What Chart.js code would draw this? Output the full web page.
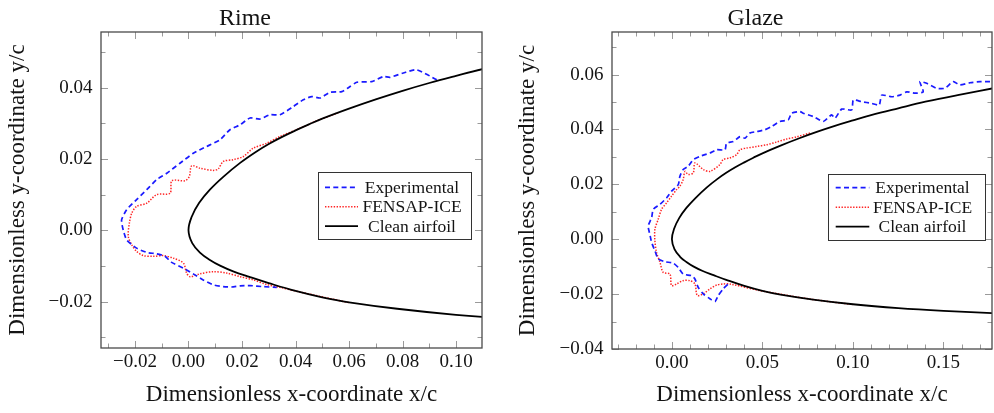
<!DOCTYPE html>
<html>
<head>
<meta charset="utf-8">
<title>Ice shapes: Rime and Glaze</title>
<script src="https://cdn.jsdelivr.net/npm/chart.js@4.4.1/dist/chart.umd.min.js"></script>
<style>
  html, body { margin: 0; padding: 0; background: #fff; }
  #wrap { position: relative; width: 994px; height: 413px; overflow: hidden; background: #fff; }
  canvas { position: absolute; top: 0; }
  #rime { left: 0; }
  #glaze { left: 497px; }
</style>
</head>
<body>
<div id="wrap">
  <canvas id="rime" width="497" height="413"></canvas>
  <canvas id="glaze" width="497" height="413"></canvas>
</div>
<script>
// ---- labels ----
const seriesLabels = ['Experimental', 'FENSAP-ICE', 'Clean airfoil'];
const panelTitles = ['Rime', 'Glaze'];
const xAxisLabel = 'Dimensionless x-coordinate x/c';
const yAxisLabel = 'Dimensionless y-coordinate y/c';

// ---- tick values ----
const rimeXTicks = [-0.02, 0.00, 0.02, 0.04, 0.06, 0.08, 0.10];
const rimeYTicks = [-0.02, 0.00, 0.02, 0.04];
const glazeXTicks = [0.00, 0.05, 0.10, 0.15];
const glazeYTicks = [-0.04, -0.02, 0.00, 0.02, 0.04, 0.06];

// ---- axis ranges [min, max] ----
const rimeXRange = [-0.0327, 0.1097];
const rimeYRange = [-0.0330, 0.0556];
const glazeXRange = [-0.0331, 0.1768];
const glazeYRange = [-0.0400, 0.0755];

// ---- clean airfoil contour (upper surface -> leading edge -> lower surface) ----
const cleanAirfoil = [
  [0.1800, 0.0553], [0.1600, 0.0528], [0.1400, 0.0501], [0.1250, 0.0477],
  [0.1100, 0.0452], [0.1000, 0.0433], [0.0900, 0.0413], [0.0800, 0.0391],
  [0.0700, 0.0367], [0.0600, 0.0341], [0.0500, 0.0313], [0.0450, 0.0297],
  [0.0400, 0.0280], [0.0350, 0.0262], [0.0300, 0.0242], [0.0250, 0.0219],
  [0.0193, 0.0189], [0.0130, 0.0150], [0.0080, 0.0114], [0.0040, 0.0077],
  [0.0012, 0.0038], [0.0000, 0.0000], [0.0014, -0.0036], [0.0045, -0.0064],
  [0.0080, -0.0083], [0.0118, -0.0099], [0.0167, -0.0115], [0.0230, -0.0131],
  [0.0300, -0.0148], [0.0400, -0.0170], [0.0500, -0.0188], [0.0600, -0.0202],
  [0.0780, -0.0220], [0.1000, -0.0237], [0.1250, -0.0251], [0.1500, -0.0261],
  [0.1800, -0.0270]
];

// ---- rime ice ----
const rimeExperimental = [
  [0.0928, 0.0422], [0.0853, 0.0450], [0.0803, 0.0441], [0.0753, 0.0429],
  [0.0728, 0.0431], [0.0685, 0.0417], [0.0629, 0.0415], [0.0604, 0.0403],
  [0.0573, 0.0389], [0.0529, 0.0387], [0.0492, 0.0371], [0.0461, 0.0375],
  [0.0429, 0.0366], [0.0392, 0.0347], [0.0342, 0.0324], [0.0305, 0.0324],
  [0.0267, 0.0312], [0.0230, 0.0315], [0.0193, 0.0296], [0.0155, 0.0282],
  [0.0118, 0.0254], [0.0068, 0.0235], [0.0018, 0.0216], [-0.0032, 0.0188],
  [-0.0081, 0.0160], [-0.0119, 0.0142], [-0.0156, 0.0114], [-0.0194, 0.0086],
  [-0.0231, 0.0058], [-0.0250, 0.0029], [-0.0244, 0.0001], [-0.0231, -0.0027],
  [-0.0194, -0.0050], [-0.0156, -0.0062], [-0.0119, -0.0066], [-0.0088, -0.0073],
  [-0.0063, -0.0090], [-0.0019, -0.0106], [0.0024, -0.0125], [0.0055, -0.0139],
  [0.0093, -0.0153], [0.0130, -0.0158], [0.0161, -0.0159], [0.0193, -0.0156],
  [0.0230, -0.0155], [0.0280, -0.0158], [0.0330, -0.0160]
];
const rimeFensap = [
  [0.0560, 0.0330], [0.0467, 0.0303], [0.0417, 0.0286], [0.0342, 0.0263],
  [0.0292, 0.0244], [0.0242, 0.0230], [0.0205, 0.0207], [0.0167, 0.0198],
  [0.0130, 0.0193], [0.0111, 0.0172], [0.0093, 0.0168], [0.0043, 0.0174],
  [0.0012, 0.0181], [0.0003, 0.0151], [-0.0013, 0.0139], [-0.0062, 0.0139],
  [-0.0069, 0.0104], [-0.0119, 0.0100], [-0.0156, 0.0076], [-0.0194, 0.0067],
  [-0.0212, 0.0048], [-0.0221, 0.0020], [-0.0225, -0.0017], [-0.0212, -0.0041],
  [-0.0194, -0.0059], [-0.0169, -0.0071], [-0.0132, -0.0073], [-0.0094, -0.0071],
  [-0.0057, -0.0078], [-0.0019, -0.0092], [-0.0007, -0.0120], [0.0006, -0.0130],
  [0.0043, -0.0122], [0.0093, -0.0116], [0.0143, -0.0120], [0.0193, -0.0130],
  [0.0242, -0.0139], [0.0292, -0.0152], [0.0342, -0.0160], [0.0417, -0.0173],
  [0.0600, -0.0203]
];

// ---- glaze ice ----
const glazeExperimental = [
  [0.1757, 0.0574], [0.1702, 0.0574], [0.1646, 0.0570], [0.1591, 0.0562],
  [0.1554, 0.0574], [0.1508, 0.0550], [0.1462, 0.0550], [0.1407, 0.0568],
  [0.1370, 0.0574], [0.1388, 0.0537], [0.1343, 0.0532], [0.1297, 0.0537],
  [0.1260, 0.0525], [0.1214, 0.0519], [0.1159, 0.0525], [0.1145, 0.0489],
  [0.1103, 0.0495], [0.1048, 0.0501], [0.1002, 0.0507], [0.0993, 0.0471],
  [0.0938, 0.0474], [0.0901, 0.0441], [0.0882, 0.0453], [0.0836, 0.0429],
  [0.0781, 0.0447], [0.0725, 0.0459], [0.0707, 0.0465], [0.0661, 0.0459],
  [0.0643, 0.0435], [0.0597, 0.0429], [0.0551, 0.0411], [0.0514, 0.0399],
  [0.0468, 0.0392], [0.0431, 0.0387], [0.0403, 0.0368], [0.0376, 0.0374],
  [0.0339, 0.0356], [0.0302, 0.0350], [0.0293, 0.0326], [0.0247, 0.0326],
  [0.0210, 0.0314], [0.0155, 0.0302], [0.0118, 0.0290], [0.0090, 0.0266],
  [0.0062, 0.0254], [0.0044, 0.0229], [0.0035, 0.0199], [-0.0002, 0.0175],
  [-0.0029, 0.0151], [-0.0066, 0.0127], [-0.0103, 0.0109], [-0.0112, 0.0079],
  [-0.0131, 0.0048], [-0.0122, 0.0018], [-0.0112, -0.0012], [-0.0094, -0.0042],
  [-0.0076, -0.0072], [-0.0039, -0.0082], [0.0007, -0.0087], [0.0035, -0.0103],
  [0.0062, -0.0127], [0.0109, -0.0133], [0.0127, -0.0145], [0.0145, -0.0175],
  [0.0173, -0.0199], [0.0210, -0.0217], [0.0238, -0.0227], [0.0256, -0.0205],
  [0.0283, -0.0181], [0.0311, -0.0163]
];
const glazeFensap = [
  [0.0762, 0.0387], [0.0689, 0.0373], [0.0634, 0.0365], [0.0578, 0.0354],
  [0.0523, 0.0344], [0.0468, 0.0338], [0.0413, 0.0332], [0.0376, 0.0326],
  [0.0357, 0.0308], [0.0320, 0.0296], [0.0283, 0.0290], [0.0265, 0.0272],
  [0.0210, 0.0247], [0.0173, 0.0254], [0.0127, 0.0278], [0.0118, 0.0242],
  [0.0090, 0.0236], [0.0072, 0.0247], [0.0062, 0.0217], [0.0044, 0.0193],
  [0.0026, 0.0181], [-0.0002, 0.0157], [-0.0029, 0.0133], [-0.0057, 0.0109],
  [-0.0076, 0.0072], [-0.0094, 0.0036], [-0.0094, -0.0006], [-0.0085, -0.0048],
  [-0.0066, -0.0084], [-0.0048, -0.0121], [-0.0011, -0.0127], [-0.0002, -0.0169],
  [0.0026, -0.0163], [0.0062, -0.0151], [0.0099, -0.0151], [0.0127, -0.0163],
  [0.0140, -0.0205], [0.0173, -0.0199], [0.0210, -0.0181], [0.0247, -0.0167],
  [0.0283, -0.0163], [0.0320, -0.0163], [0.0486, -0.0187], [0.0762, -0.0218],
  [0.1000, -0.0238]
];

// ---- drawing helpers ----
const FONT = "'Liberation Serif', 'DejaVu Serif', serif";
const TEXT = '#141414';

const toPoints = arr => arr.map(([x, y]) => ({ x, y }));
const fmtTick = v => (v < 0 ? '\u2212' : '') + Math.abs(v).toFixed(2);

// Panel heading, centred over the whole panel
const panelTitle = {
  id: 'panelTitle',
  afterDraw(chart, args, o) {
    const ctx = chart.ctx;
    ctx.save();
    ctx.font = `24px ${FONT}`;
    ctx.fillStyle = TEXT;
    ctx.textAlign = 'center';
    ctx.textBaseline = 'alphabetic';
    ctx.fillText(o.text, o.x, o.y);
    ctx.restore();
  }
};

// Closed axis frame with inward major/minor ticks on all four sides
const axisFrame = {
  id: 'axisFrame',
  afterDatasetsDraw(chart, args, o) {
    const { ctx, chartArea: { left, right, top, bottom }, scales: { x, y } } = chart;
    const positions = (scale, majors) => {
      const out = [];
      const n0 = Math.ceil(scale.min / o.minorStep - 1e-6);
      const n1 = Math.floor(scale.max / o.minorStep + 1e-6);
      for (let n = n0; n <= n1; n++) {
        const v = n * o.minorStep;
        const major = majors.some(m => Math.abs(m - v) < 1e-9);
        out.push([Math.round(scale.getPixelForValue(v)) + 0.5, major ? o.majorLen : o.minorLen]);
      }
      return out;
    };
    ctx.save();
    ctx.strokeStyle = '#9a9a9a';
    ctx.lineWidth = 1;
    ctx.beginPath();
    for (const [px, len] of positions(x, o.xMajors)) {
      ctx.moveTo(px, bottom); ctx.lineTo(px, bottom - len);
      ctx.moveTo(px, top); ctx.lineTo(px, top + len);
    }
    for (const [py, len] of positions(y, o.yMajors)) {
      ctx.moveTo(left, py); ctx.lineTo(left + len, py);
      ctx.moveTo(right, py); ctx.lineTo(right - len, py);
    }
    ctx.stroke();
    ctx.strokeStyle = '#4a4a4a';
    ctx.lineWidth = 1.3;
    ctx.strokeRect(left, top, right - left, bottom - top);
    ctx.restore();
  }
};

// Boxed legend listing every series with its line style
const boxLegend = {
  id: 'boxLegend',
  afterDraw(chart, args, o) {
    const ctx = chart.ctx;
    ctx.save();
    ctx.fillStyle = '#fff';
    ctx.fillRect(o.left, o.top, o.width, o.height);
    ctx.strokeStyle = '#333';
    ctx.lineWidth = 1;
    ctx.strokeRect(o.left + 0.5, o.top + 0.5, o.width, o.height);
    chart.data.datasets.forEach((ds, i) => {
      const cy = o.top + o.firstRow + i * o.rowGap;
      ctx.beginPath();
      ctx.setLineDash(ds.borderDash || []);
      ctx.strokeStyle = ds.borderColor;
      ctx.lineWidth = ds.borderWidth;
      ctx.moveTo(o.left + o.lineStart, cy);
      ctx.lineTo(o.left + o.lineEnd, cy);
      ctx.stroke();
      ctx.setLineDash([]);
      ctx.fillStyle = TEXT;
      ctx.font = `17.5px ${FONT}`;
      ctx.textAlign = 'center';
      ctx.textBaseline = 'middle';
      ctx.fillText(ds.label, o.left + o.textCenter, cy + 1);
    });
    ctx.restore();
  }
};

function buildDatasets(experimental, fensap) {
  const common = { showLine: true, pointRadius: 0, pointHoverRadius: 0, fill: false };
  return [
    { ...common, label: seriesLabels[0], data: toPoints(experimental),
      borderColor: '#1a1aff', borderWidth: 1.7, borderDash: [5, 3.3], tension: 0.2, order: 1 },
    { ...common, label: seriesLabels[1], data: toPoints(fensap),
      borderColor: '#ff2424', borderWidth: 1.5, borderDash: [1.4, 1.5], tension: 0.3, order: 2 },
    { ...common, label: seriesLabels[2], data: toPoints(cleanAirfoil),
      borderColor: '#000000', borderWidth: 1.8, tension: 0.4, order: 0 }
  ];
}

function buildScales(xRange, yRange, xTicks, yTicks, geo) {
  const tickFont = { family: FONT, size: 19 };
  const titleFont = { family: FONT, size: 23 };
  return {
    x: {
      type: 'linear', position: 'bottom', min: xRange[0], max: xRange[1],
      afterBuildTicks: s => { s.ticks = xTicks.map(v => ({ value: v })); },
      afterFit: s => { s.height = geo.xAxisHeight; },
      grid: { display: false, drawTicks: false },
      border: { display: false },
      ticks: { font: tickFont, color: TEXT, padding: 3, autoSkip: false,
               maxRotation: 0, minRotation: 0, callback: fmtTick },
      title: { display: true, text: xAxisLabel, font: titleFont, color: TEXT,
               padding: { top: 0, bottom: 4.5 } }
    },
    y: {
      type: 'linear', position: 'left', min: yRange[0], max: yRange[1],
      afterBuildTicks: s => { s.ticks = yTicks.map(v => ({ value: v })); },
      afterFit: s => { s.width = geo.yAxisWidth; },
      grid: { display: false, drawTicks: false },
      border: { display: false },
      ticks: { font: tickFont, color: TEXT, padding: 8.5, autoSkip: false, callback: fmtTick },
      title: { display: true, text: yAxisLabel, font: titleFont, color: TEXT,
               padding: { top: geo.yTitlePad, bottom: 0 } }
    }
  };
}

function makePanel(canvasId, cfg) {
  return new Chart(document.getElementById(canvasId), {
    type: 'scatter',
    data: { datasets: buildDatasets(cfg.experimental, cfg.fensap) },
    options: {
      responsive: false,
      animation: false,
      devicePixelRatio: 1,
      layout: { padding: cfg.padding },
      scales: buildScales(cfg.xRange, cfg.yRange, cfg.xTicks, cfg.yTicks, cfg.geo),
      plugins: {
        legend: { display: false },
        tooltip: { enabled: false },
        panelTitle: cfg.title,
        axisFrame: { minorStep: 0.01, majorLen: 7, minorLen: 4.5,
                     xMajors: cfg.xTicks, yMajors: cfg.yTicks },
        boxLegend: cfg.legend
      }
    },
    plugins: [axisFrame, boxLegend, panelTitle]
  });
}

makePanel('rime', {
  experimental: rimeExperimental, fensap: rimeFensap,
  xRange: rimeXRange, yRange: rimeYRange, xTicks: rimeXTicks, yTicks: rimeYTicks,
  padding: { left: 0, right: 15, top: 32, bottom: 0 },
  geo: { yAxisWidth: 101, xAxisHeight: 65, yTitlePad: 4 },
  title: { text: panelTitles[0], x: 245, y: 25 },
  legend: { left: 318, top: 172, width: 153, height: 67, firstRow: 15.3, rowGap: 19.4,
            lineStart: 7, lineEnd: 40, textCenter: 94 }
});

makePanel('glaze', {
  experimental: glazeExperimental, fensap: glazeFensap,
  xRange: glazeXRange, yRange: glazeYRange, xTicks: glazeXTicks, yTicks: glazeYTicks,
  padding: { left: 0, right: 2, top: 32, bottom: 0 },
  geo: { yAxisWidth: 115, xAxisHeight: 64, yTitlePad: 17 },
  title: { text: panelTitles[1], x: 258.5, y: 25 },
  legend: { left: 331, top: 174, width: 157, height: 66, firstRow: 13.7, rowGap: 19.5,
            lineStart: 7.7, lineEnd: 41.3, textCenter: 94.5 }
});
</script>
</body>
</html>
